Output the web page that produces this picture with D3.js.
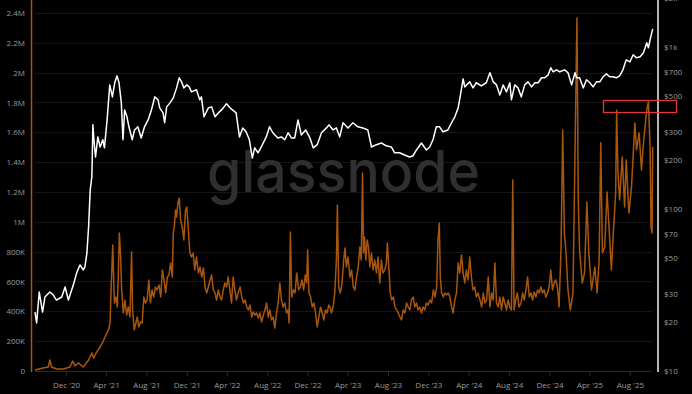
<!DOCTYPE html>
<html>
<head>
<meta charset="utf-8">
<script src="https://cdn.jsdelivr.net/npm/d3@7"></script>
<style>
  html, body { margin: 0; padding: 0; background: #000; }
  svg { display: block; }
</style>
</head>
<body>
<script>
    var w = 692; //width of the SVG canvas
    var h = 394; //height of the SVG canvas

    // price (white line, right log axis) - [date, USD]
    var priceSeries = [
        ["2020-08-29",23.1],["2020-09-03",19.8],["2020-09-11",30.7],["2020-09-21",23.1],["2020-09-28",28.6],
        ["2020-10-13",30.7],["2020-10-23",29.5],["2020-11-02",27.4],["2020-11-18",28.6],["2020-11-28",33.0],
        ["2020-12-08",27.4],["2020-12-23",34.0],["2021-01-02",40.3],["2021-01-12",45.1],["2021-01-22",42.0],
        ["2021-01-27",43.9],["2021-02-02",53.5],["2021-02-07",77.4],["2021-02-12",131],["2021-02-17",158],
        ["2021-02-20",330],["2021-02-24",255],["2021-02-28",209],["2021-03-07",278],["2021-03-14",241],
        ["2021-03-22",267],["2021-03-27",238],["2021-04-04",354],["2021-04-12",582],["2021-04-20",491],
        ["2021-04-27",600],["2021-05-04",662],["2021-05-10",600],["2021-05-17",451],["2021-05-22",267],
        ["2021-05-27",408],["2021-06-03",370],["2021-06-09",321],["2021-06-19",267],["2021-06-26",307],
        ["2021-07-06",321],["2021-07-16",274],["2021-07-26",321],["2021-08-06",354],["2021-08-16",408],
        ["2021-08-26",491],["2021-09-05",471],["2021-09-10",420],["2021-09-20",391],["2021-09-25",340],
        ["2021-10-01",426],["2021-10-11",451],["2021-10-21",484],["2021-10-31",558],["2021-11-08",644],
        ["2021-11-15",608],["2021-11-22",558],["2021-12-01",582],["2021-12-08",566],["2021-12-15",527],
        ["2021-12-30",543],["2022-01-09",471],["2022-01-14",491],["2022-01-22",370],["2022-02-04",420],
        ["2022-02-14",426],["2022-02-24",370],["2022-03-06",391],["2022-03-16",408],["2022-03-31",445],
        ["2022-04-14",414],["2022-04-29",391],["2022-05-09",278],["2022-05-19",316],["2022-05-29",299],
        ["2022-06-08",267],["2022-06-17",206],["2022-06-24",238],["2022-07-04",222],["2022-07-14",241],
        ["2022-07-29",278],["2022-08-08",321],["2022-08-18",295],["2022-09-02",274],["2022-09-13",278],
        ["2022-09-23",267],["2022-10-03",295],["2022-10-13",274],["2022-10-23",274],["2022-11-02",354],
        ["2022-11-12",286],["2022-11-25",307],["2022-12-08",274],["2022-12-18",238],["2022-12-30",249],
        ["2023-01-12",295],["2023-01-27",316],["2023-02-04",330],["2023-02-16",307],["2023-02-26",316],
        ["2023-03-08",278],["2023-03-18",340],["2023-04-02",316],["2023-04-17",340],["2023-05-02",321],
        ["2023-05-17",316],["2023-06-01",307],["2023-06-12",241],["2023-06-27",249],["2023-07-12",255],
        ["2023-07-27",245],["2023-08-11",241],["2023-08-21",222],["2023-09-05",222],["2023-09-20",215],
        ["2023-10-05",209],["2023-10-15",212],["2023-10-26",231],["2023-11-10",255],["2023-11-25",231],
        ["2023-12-05",241],["2023-12-15",267],["2023-12-25",321],["2024-01-04",321],["2024-01-14",299],
        ["2024-01-29",307],["2024-02-09",340],["2024-02-19",370],["2024-02-29",420],["2024-03-07",505],
        ["2024-03-15",634],["2024-03-20",566],["2024-04-04",608],["2024-04-14",558],["2024-04-24",600],
        ["2024-05-09",574],["2024-05-24",600],["2024-06-04",692],["2024-06-14",608],["2024-06-24",582],
        ["2024-07-04",505],["2024-07-14",582],["2024-07-24",527],["2024-08-03",600],["2024-08-08",471],
        ["2024-08-18",582],["2024-08-28",558],["2024-09-07",491],["2024-09-17",582],["2024-09-27",608],
        ["2024-10-08",566],["2024-10-18",600],["2024-10-28",600],["2024-11-07",644],["2024-11-17",644],
        ["2024-11-27",671],["2024-12-05",742],["2024-12-12",701],["2024-12-22",721],["2025-01-01",701],
        ["2025-01-16",721],["2025-01-26",692],["2025-02-06",582],["2025-02-16",692],["2025-02-21",644],
        ["2025-03-02",644],["2025-03-13",558],["2025-03-23",626],["2025-04-02",600],["2025-04-12",566],
        ["2025-04-22",608],["2025-05-02",608],["2025-05-12",653],["2025-05-22",681],["2025-06-01",653],
        ["2025-06-11",653],["2025-06-21",644],["2025-07-01",662],["2025-07-11",721],["2025-07-21",831],
        ["2025-08-01",807],["2025-08-11",893],["2025-08-21",855],["2025-09-01",867],["2025-09-11",918],
        ["2025-09-21",1059],["2025-09-26",986],["2025-10-01",1104],["2025-10-09",1291]
    ];

    // count series (orange line, left axis) - [date, thousands]
    var countSeries = [
        ["2020-08-29",7],["2020-09-23",20],["2020-10-08",27],["2020-10-13",74],["2020-10-18",27],
        ["2020-11-03",13],["2020-11-23",13],["2020-12-13",27],["2020-12-21",67],["2020-12-28",34],
        ["2021-01-07",54],["2021-01-22",27],["2021-02-07",74],["2021-02-17",121],["2021-02-22",87],
        ["2021-03-02",121],["2021-03-12",154],["2021-03-22",194],["2021-03-29",230],["2021-04-08",275],
        ["2021-04-13",322],["2021-04-16",543],["2021-04-21",845],["2021-04-26",456],["2021-05-01",496],
        ["2021-05-05",429],["2021-05-08",657],["2021-05-11",925],["2021-05-15",764],["2021-05-18",543],
        ["2021-05-23",389],["2021-05-28",476],["2021-06-02",375],["2021-06-07",429],["2021-06-12",362],
        ["2021-06-17",798],["2021-06-20",409],["2021-06-25",275],["2021-06-30",322],["2021-07-04",362],
        ["2021-07-09",295],["2021-07-14",328],["2021-07-19",322],["2021-07-24",496],["2021-07-29",456],
        ["2021-08-03",476],["2021-08-08",610],["2021-08-13",456],["2021-08-18",543],["2021-08-23",496],
        ["2021-08-28",563],["2021-09-02",543],["2021-09-08",577],["2021-09-13",496],["2021-09-18",677],
        ["2021-09-23",610],["2021-09-28",523],["2021-10-03",630],["2021-10-08",644],["2021-10-13",724],
        ["2021-10-18",630],["2021-10-21",925],["2021-10-24",965],["2021-10-28",1079],["2021-10-31",1032],
        ["2021-11-04",1126],["2021-11-08",1160],["2021-11-12",1012],["2021-11-17",965],["2021-11-22",878],
        ["2021-11-27",1079],["2021-12-01",1099],["2021-12-05",965],["2021-12-10",798],["2021-12-15",764],
        ["2021-12-20",791],["2021-12-25",677],["2021-12-30",764],["2022-01-05",657],["2022-01-10",697],
        ["2022-01-15",630],["2022-01-20",691],["2022-01-25",563],["2022-01-30",523],["2022-02-04",563],
        ["2022-02-09",610],["2022-02-14",644],["2022-02-19",543],["2022-02-24",523],["2022-03-01",476],
        ["2022-03-06",543],["2022-03-11",496],["2022-03-16",476],["2022-03-21",543],["2022-03-26",590],
        ["2022-03-31",563],["2022-04-05",630],["2022-04-10",543],["2022-04-15",456],["2022-04-20",630],
        ["2022-04-25",543],["2022-04-30",476],["2022-05-05",523],["2022-05-11",563],["2022-05-16",496],
        ["2022-05-21",456],["2022-05-26",476],["2022-05-31",429],["2022-06-05",409],["2022-06-10",442],
        ["2022-06-15",362],["2022-06-20",396],["2022-06-25",375],["2022-06-30",389],["2022-07-05",355],
        ["2022-07-10",389],["2022-07-15",328],["2022-07-20",375],["2022-07-25",409],["2022-07-30",456],
        ["2022-08-04",362],["2022-08-09",409],["2022-08-14",342],["2022-08-19",362],["2022-08-24",288],
        ["2022-08-29",389],["2022-09-03",456],["2022-09-08",590],["2022-09-13",476],["2022-09-18",429],
        ["2022-09-23",456],["2022-09-28",389],["2022-10-03",409],["2022-10-06",322],["2022-10-10",932],
        ["2022-10-14",496],["2022-10-19",543],["2022-10-24",523],["2022-10-29",657],["2022-11-04",543],
        ["2022-11-09",563],["2022-11-14",610],["2022-11-19",543],["2022-11-24",644],["2022-11-28",590],
        ["2022-12-01",811],["2022-12-05",523],["2022-12-10",496],["2022-12-15",429],["2022-12-20",456],
        ["2022-12-25",389],["2022-12-30",295],["2023-01-04",362],["2023-01-09",429],["2023-01-14",389],
        ["2023-01-19",342],["2023-01-24",409],["2023-01-29",389],["2023-02-03",442],["2023-02-08",422],
        ["2023-02-11",389],["2023-02-16",429],["2023-02-21",523],["2023-02-26",744],["2023-03-01",1113],
        ["2023-03-05",563],["2023-03-10",523],["2023-03-15",590],["2023-03-20",744],["2023-03-24",825],
        ["2023-03-28",697],["2023-04-02",764],["2023-04-08",630],["2023-04-13",677],["2023-04-18",563],
        ["2023-04-23",543],["2023-04-28",630],["2023-05-03",697],["2023-05-08",831],["2023-05-12",744],
        ["2023-05-16",1327],["2023-05-19",791],["2023-05-22",898],["2023-05-26",744],["2023-05-30",878],
        ["2023-06-03",831],["2023-06-07",697],["2023-06-12",791],["2023-06-17",677],["2023-06-22",744],
        ["2023-06-27",657],["2023-07-02",764],["2023-07-07",590],["2023-07-12",744],["2023-07-17",657],
        ["2023-07-22",677],["2023-07-27",724],["2023-07-30",858],["2023-08-04",677],["2023-08-08",523],
        ["2023-08-12",476],["2023-08-17",496],["2023-08-22",429],["2023-08-27",409],["2023-09-01",389],
        ["2023-09-06",362],["2023-09-11",342],["2023-09-16",409],["2023-09-21",389],["2023-09-26",456],
        ["2023-10-01",429],["2023-10-06",409],["2023-10-11",476],["2023-10-16",496],["2023-10-21",429],
        ["2023-10-26",456],["2023-10-31",409],["2023-11-05",429],["2023-11-10",389],["2023-11-15",429],
        ["2023-11-20",409],["2023-11-25",456],["2023-11-30",442],["2023-12-06",476],["2023-12-11",456],
        ["2023-12-16",543],["2023-12-21",496],["2023-12-26",563],["2023-12-30",878],["2024-01-03",992],
        ["2024-01-06",630],["2024-01-10",523],["2024-01-15",496],["2024-01-20",523],["2024-01-25",510],
        ["2024-01-30",523],["2024-02-04",496],["2024-02-09",429],["2024-02-14",389],["2024-02-19",476],
        ["2024-02-24",523],["2024-02-29",724],["2024-03-05",657],["2024-03-10",778],["2024-03-15",657],
        ["2024-03-20",590],["2024-03-25",677],["2024-03-30",610],["2024-04-04",764],["2024-04-09",630],
        ["2024-04-14",543],["2024-04-19",563],["2024-04-24",496],["2024-04-29",523],["2024-05-05",476],
        ["2024-05-10",429],["2024-05-15",523],["2024-05-20",456],["2024-05-25",476],["2024-05-30",630],
        ["2024-06-04",429],["2024-06-09",523],["2024-06-14",476],["2024-06-19",724],["2024-06-24",456],
        ["2024-06-29",429],["2024-07-04",496],["2024-07-09",409],["2024-07-14",496],["2024-07-19",456],
        ["2024-07-24",409],["2024-07-29",476],["2024-08-03",429],["2024-08-08",409],["2024-08-12",1280],
        ["2024-08-16",409],["2024-08-21",476],["2024-08-26",523],["2024-08-31",429],["2024-09-06",456],
        ["2024-09-11",523],["2024-09-16",476],["2024-09-21",543],["2024-09-26",630],["2024-10-01",496],
        ["2024-10-06",523],["2024-10-11",476],["2024-10-16",530],["2024-10-21",496],["2024-10-26",543],
        ["2024-10-31",523],["2024-11-05",563],["2024-11-10",523],["2024-11-15",543],["2024-11-20",496],
        ["2024-11-25",523],["2024-11-30",563],["2024-12-05",677],["2024-12-10",543],["2024-12-15",590],
        ["2024-12-20",610],["2024-12-25",563],["2024-12-30",429],["2025-01-05",825],["2025-01-10",1616],
        ["2025-01-15",925],["2025-01-20",791],["2025-01-26",543],["2025-02-02",409],["2025-02-10",523],
        ["2025-02-15",1280],["2025-02-22",2367],["2025-02-26",1146],["2025-03-02",811],["2025-03-10",590],
        ["2025-03-17",657],["2025-03-24",1133],["2025-03-30",791],["2025-04-07",543],["2025-04-17",697],
        ["2025-04-24",523],["2025-04-30",744],["2025-05-05",1529],["2025-05-10",791],["2025-05-17",831],
        ["2025-05-24",1200],["2025-05-30",965],["2025-06-06",677],["2025-06-13",965],["2025-06-19",1193],
        ["2025-06-22",1750],["2025-06-26",1327],["2025-07-01",1146],["2025-07-09",1435],["2025-07-16",1099],
        ["2025-07-21",1415],["2025-07-29",1059],["2025-08-06",1234],["2025-08-16",1663],["2025-08-21",1482],
        ["2025-08-29",1596],["2025-09-05",1348],["2025-09-12",1549],["2025-09-21",1750],["2025-09-26",1803],
        ["2025-10-01",1502],["2025-10-04",965],["2025-10-07",925],["2025-10-09",1502]
    ];

    var leftTicks = [0, 200e3, 400e3, 600e3, 800e3, 1e6, 1.2e6, 1.4e6, 1.6e6, 1.8e6, 2e6, 2.2e6, 2.4e6];
    var rightTicks = [10, 20, 30, 50, 70, 100, 200, 300, 500, 700, 1000, 2000];
    var monthTicks = ["2020-12-01","2021-04-01","2021-08-01","2021-12-01","2022-04-01","2022-08-01",
                      "2022-12-01","2023-04-01","2023-08-01","2023-12-01","2024-04-01","2024-08-01",
                      "2024-12-01","2025-04-01","2025-08-01"];

    var parse = d3.timeParse("%Y-%m-%d");
    var orange = "#a9560d";
    var labelFont = "'Open Sans', sans-serif";

    var xScale = d3.scaleTime()
        .domain([parse("2020-08-17"), parse("2025-10-25")])
        .range([31, 658]);

    var yLeft = d3.scaleLinear().domain([0, 2.5e6]).range([371, -2]);
    var yRight = d3.scaleLog().domain([10, 2000]).range([371, -2]);

    var svg = d3.select("body").append("svg")
        .attr("width", w)
        .attr("height", h)
        .style("background", "#000");

    // gridlines
    svg.append("g").selectAll("line")
        .data(leftTicks)
        .enter().append("line")
        .attr("x1", 35).attr("x2", 652)
        .attr("y1", function(d) { return Math.round(yLeft(d)) + 0.5; })
        .attr("y2", function(d) { return Math.round(yLeft(d)) + 0.5; })
        .attr("stroke", function(d) { return d === 0 ? "#2a2a2a" : "#161616"; })
        .attr("stroke-width", 1);

    // watermark
    svg.append("text")
        .attr("x", 207).attr("y", 192)
        .attr("textLength", 273)
        .attr("lengthAdjust", "spacingAndGlyphs")
        .style("font-family", "Inter, 'Open Sans', sans-serif")
        .style("font-weight", 500)
        .style("font-size", "58px")
        .attr("fill", "#2f2f2f")
        .text("glassnode");

    // x axis
    var xAxis = d3.axisBottom(xScale)
        .tickValues(monthTicks.map(parse))
        .tickSize(5)
        .tickPadding(6)
        .tickFormat(d3.timeFormat("%b '%y"));
    var gx = svg.append("g")
        .attr("transform", "translate(0,371)")
        .call(xAxis);
    gx.select(".domain").remove();
    gx.selectAll("line").attr("stroke", "#2a2a2a");
    gx.selectAll("text").attr("fill", "#9a9a9a")
        .style("font-family", labelFont).style("font-size", "8px");

    // left axis
    var yAxisLeft = d3.axisLeft(yLeft)
        .tickValues(leftTicks)
        .tickSize(0)
        .tickPadding(6)
        .tickFormat(function(d) { return d === 0 ? "0" : d >= 1e6 ? (d / 1e6) + "M" : (d / 1e3) + "K"; });
    var gl = svg.append("g")
        .attr("transform", "translate(31,0)")
        .call(yAxisLeft);
    gl.select(".domain").remove();
    gl.selectAll("text").attr("fill", "#9a9a9a")
        .style("font-family", labelFont).style("font-size", "8px");
    svg.append("line")
        .attr("x1", 31.5).attr("x2", 31.5).attr("y1", 0).attr("y2", 372)
        .attr("stroke", orange).attr("stroke-width", 1.5);

    // right axis
    var yAxisRight = d3.axisRight(yRight)
        .tickValues(rightTicks)
        .tickSize(0)
        .tickPadding(6)
        .tickFormat(function(d) { return d >= 1000 ? "$" + (d / 1000) + "k" : "$" + d; });
    var gr = svg.append("g")
        .attr("transform", "translate(658,0)")
        .call(yAxisRight);
    gr.select(".domain").remove();
    gr.selectAll("text").attr("fill", "#9a9a9a")
        .style("font-family", labelFont).style("font-size", "8px");
    svg.append("line")
        .attr("x1", 658).attr("x2", 658).attr("y1", 0).attr("y2", 372)
        .attr("stroke", "#f2f2f2").attr("stroke-width", 1.5);

    // count line
    var countLine = d3.line()
        .x(function(d) { return xScale(parse(d[0])); })
        .y(function(d) { return yLeft(d[1] * 1000); });
    svg.append("path")
        .datum(countSeries)
        .attr("d", countLine)
        .attr("fill", "none")
        .attr("stroke", orange)
        .attr("stroke-width", 1.5)
        .attr("stroke-linejoin", "round");

    // price line
    var priceLine = d3.line()
        .x(function(d) { return xScale(parse(d[0])); })
        .y(function(d) { return yRight(d[1]); });
    svg.append("path")
        .datum(priceSeries)
        .attr("d", priceLine)
        .attr("fill", "none")
        .attr("stroke", "#ffffff")
        .attr("stroke-width", 1.5)
        .attr("stroke-linejoin", "round");

    // red highlight box
    svg.append("rect")
        .attr("x", 603.5).attr("y", 100.5)
        .attr("width", 73).attr("height", 12)
        .attr("fill", "none")
        .attr("stroke", "#e0383c")
        .attr("stroke-width", 1.3);
</script>
</body>
</html>
